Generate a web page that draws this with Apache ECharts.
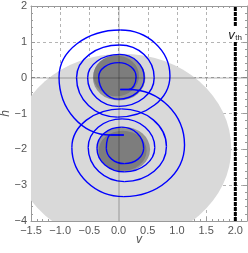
<!DOCTYPE html>
<html><head><meta charset="utf-8">
<script src="https://cdn.jsdelivr.net/npm/echarts@6/dist/echarts.min.js"></script>
<style>html,body{margin:0;padding:0;background:#fff}#c{width:248px;height:253px}</style>
</head><body><div id="c"></div>
<script>
// axis ranges
const vRange = [-1.5, 2.2];
const hRange = [-4, 2];
const vStep = 0.5;
const hStep = 1;
// threshold line
const thresholdV = [2.0];
const thresholdLabelH = [1.22];
const thresholdText = ['v', 'th'];
// basin (large light region): [v, h, radius v, radius h]
const basin = [[0.06, -1.97, 1.87, 2.64]];
// focus regions: outer rings and cores
const focusRings = [[0.01, 0.0, 0.45, 0.64], [0.085, -2.0, 0.455, 0.63]];
const focusCores = [[-0.04, 0.05, 0.39, 0.57], [0.07, -2.04, 0.41, 0.56]];
// trajectory nodes: kind V = vertical tangent (left/right extreme), H = horizontal tangent (top/bottom extreme), P = corner
const trajV = [0.03, 0.17, 1.13, 0.09, -0.80, 0.05, 0.82, 0.10, -0.52, 0.06, 0.62, 0.10, -0.37, 0.05, 0.43, 0.10, -0.21, -0.14, 0.09, -0.14, -1.02, 0.03, 0.88, -0.02, -0.72, 0.02, 0.61, 0.00, -0.53, 0.02, 0.44, 0.00, -0.34, 0.00, 0.30, 0.17, 0.03];
const trajH = [-0.33, -0.33, -1.88, -3.32, -1.95, -0.87, -1.92, -2.90, -1.95, -1.15, -1.95, -2.63, -1.97, -1.38, -1.97, -2.40, -1.97, -1.60, -1.60, -1.60, 0.02, 1.33, 0.05, -1.10, 0.00, 0.91, 0.00, -0.80, 0.00, 0.65, 0.00, -0.60, 0.02, 0.42, 0.02, -0.33, -0.33];
const trajKind = ['P','H','V','H','V','H','V','H','V','H','V','H','V','H','V','H','V','H','P','H','V','H','V','H','V','H','V','H','V','H','V','H','V','H','V','H','P'];

const K = 0.5523;
const minus = s => String(s).replace('-', '\u2212');

function ellipseSeries(data, color) {
  return {
    type: 'custom', clip: true, silent: true,
    data: data,
    renderItem: function (params, api) {
      const c = api.coord([api.value(0), api.value(1)]);
      const s = api.size([api.value(2), api.value(3)]);
      return { type: 'circle', shape: { cx: 0, cy: 0, r: 1 }, x: c[0], y: c[1], scaleX: s[0], scaleY: s[1], style: { fill: color, stroke: null } };
    }
  };
}

const chart = echarts.init(document.getElementById('c'), null, { renderer: 'canvas' });
const axisGrey = '#9a9a9a';
const labelStyle = { color: '#555', fontSize: 11, fontFamily: 'Liberation Sans' };

function xAx(pos, showLabel) {
  return {
    type: 'value', min: vRange[0], max: vRange[1], interval: vStep, position: pos,
    axisLine: { show: true, onZero: false, lineStyle: { color: axisGrey } },
    axisTick: { show: true, inside: true, length: 4, lineStyle: { color: axisGrey } },
    minorTick: { show: true, splitNumber: 5, length: 2, lineStyle: { color: axisGrey } },
    axisLabel: Object.assign({ show: showLabel, margin: 4, showMaxLabel: false, formatter: v => minus(v.toFixed(1)) }, labelStyle),
    splitLine: { show: showLabel, lineStyle: { color: '#b4b4b4', type: [3, 3], width: 1 } },
    name: showLabel ? 'v' : '', nameLocation: 'middle', nameGap: 13, nameMoveOverlap: false,
    nameTextStyle: { color: '#555', fontSize: 12, fontStyle: 'italic', fontFamily: 'Liberation Sans' }
  };
}
function yAx(pos, showLabel) {
  return {
    type: 'value', min: hRange[0], max: hRange[1], interval: hStep, position: pos,
    axisLine: { show: true, onZero: false, lineStyle: { color: axisGrey } },
    axisTick: { show: true, inside: true, length: 4, lineStyle: { color: axisGrey } },
    minorTick: { show: true, splitNumber: 5, length: 2, lineStyle: { color: axisGrey } },
    axisLabel: Object.assign({ show: showLabel, margin: 4, formatter: v => minus(v) }, labelStyle),
    splitLine: { show: showLabel, lineStyle: { color: '#b4b4b4', type: [3, 3], width: 1 } },
    name: showLabel ? 'h' : '', nameLocation: 'middle', nameGap: 19, nameRotate: 90, nameMoveOverlap: false,
    nameTextStyle: { color: '#555', fontSize: 12, fontStyle: 'italic', fontFamily: 'Liberation Sans' }
  };
}

const nodes = trajV.map((v, i) => [v, trajH[i], i]);

chart.setOption({
  animation: false,
  grid: { left: 31, right: 1, top: 6, bottom: 32, containLabel: false, outerBoundsMode: 'none' },
  xAxis: [xAx('bottom', true), xAx('top', false)],
  yAxis: [yAx('left', true), yAx('right', false)],
  series: [
    ellipseSeries(basin, '#d9d9d9'),
    ellipseSeries(focusRings, '#959595'),
    ellipseSeries(focusCores, '#7d7d7d'),
    {
      type: 'line', data: [], silent: true,
      markLine: {
        symbol: 'none', silent: true, animation: false,
        label: { show: false },
        lineStyle: { color: 'rgba(0,0,0,0.2)', type: 'solid', width: 1.5 },
        data: [{ xAxis: 0 }, { yAxis: 0 }]
      }
    },
    {
      type: 'line', silent: true, showSymbol: false, symbol: 'none',
      data: [[thresholdV[0], hRange[0]], [thresholdV[0], hRange[1]]],
      lineStyle: { color: '#000', width: 3, type: [4, 1] }
    },
    {
      type: 'custom', silent: true, clip: true,
      data: nodes,
      renderItem: function (params, api) {
        const i = params.dataIndex;
        if (i >= trajV.length - 1) return null;
        const A = api.coord([trajV[i], trajH[i]]);
        const B = api.coord([trajV[i + 1], trajH[i + 1]]);
        const ka = trajKind[i], kb = trajKind[i + 1];
        let c1, c2;
        if (ka === 'V') c1 = [A[0], A[1] + K * (B[1] - A[1])];
        else if (ka === 'H') c1 = [A[0] + K * (B[0] - A[0]), A[1]];
        else c1 = [A[0], A[1]];
        if (kb === 'V') c2 = [B[0], B[1] + K * (A[1] - B[1])];
        else if (kb === 'H') c2 = [B[0] + K * (A[0] - B[0]), B[1]];
        else c2 = [B[0], B[1]];
        if (ka === kb || ka === 'P' || kb === 'P') { c1 = [A[0], A[1]]; c2 = [B[0], B[1]]; }
        return {
          type: 'bezierCurve',
          shape: { x1: A[0], y1: A[1], x2: B[0], y2: B[1], cpx1: c1[0], cpy1: c1[1], cpx2: c2[0], cpy2: c2[1] },
          style: { stroke: '#0000ff', lineWidth: 1.4, fill: null }
        };
      }
    },
    {
      type: 'custom', silent: true, clip: false, z: 10,
      data: [[thresholdV[0], thresholdLabelH[0]]],
      renderItem: function (params, api) {
        const c = api.coord([api.value(0), api.value(1)]);
        return {
          type: 'group', x: c[0], y: c[1],
          children: [
            { type: 'rect', shape: { x: -3, y: -8, width: 6, height: 15 }, style: { fill: '#fff' } },
            { type: 'text', x: -7, y: 1, style: { text: thresholdText[0], fill: '#222', fontSize: 13, fontStyle: 'italic', fontFamily: 'Liberation Sans', align: 'left', verticalAlign: 'middle' } },
            { type: 'text', x: 0, y: 4, style: { text: thresholdText[1], fill: '#222', fontSize: 8, fontFamily: 'Liberation Sans', align: 'left', verticalAlign: 'middle' } }
          ]
        };
      }
    }
  ]
});
</script></body></html>
